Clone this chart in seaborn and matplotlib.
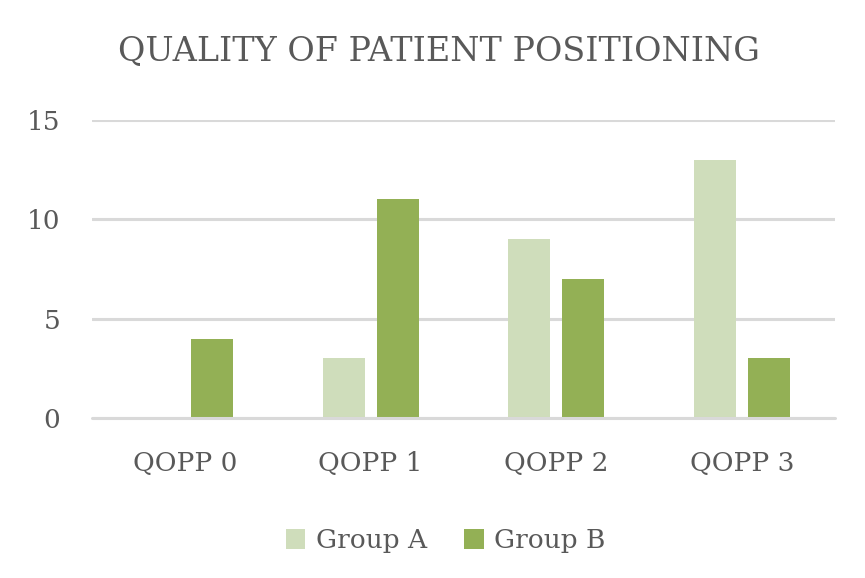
import pandas as pd
import matplotlib.pyplot as plt
import seaborn as sns

categories = ['QOPP 0', 'QOPP 1', 'QOPP 2', 'QOPP 3']
group_a = [0, 3, 9, 13]
group_b = [4, 11, 7, 3]
groups = ['Group A', 'Group B']

df = pd.DataFrame({
    'category': categories * 2,
    'value': group_a + group_b,
    'group': [groups[0]] * 4 + [groups[1]] * 4,
})

sns.set_style('white')
plt.rcParams['font.family'] = ['DejaVu Serif']
text_color = '#595959'

fig = plt.figure(figsize=(8.65, 5.78), dpi=100)
ax = fig.add_axes([0.1064, 0.2768, 0.8589, 0.5156])

palette = {'Group A': '#cfddbb', 'Group B': '#93b055'}
sns.barplot(data=df, x='category', y='value', hue='group', palette=palette,
            width=0.58, gap=0.22, saturation=1, linewidth=0, ax=ax, zorder=3)

ax.set_ylim(0, 15)
ax.set_yticks([0, 5, 10, 15])
ax.set_xlim(-0.5, 3.5)
ax.yaxis.grid(True, color='#d9d9d9', linewidth=2.2, zorder=0)
ax.axhline(0, color='#d9d9d9', linewidth=2.2, clip_on=False, zorder=4)
for s in ax.spines.values():
    s.set_visible(False)
ax.tick_params(axis='both', length=0, labelsize=19, labelcolor=text_color)
ax.tick_params(axis='x', pad=24)
ax.tick_params(axis='y', pad=23)
ax.set_xlabel('')
ax.set_ylabel('')

fig.suptitle('QUALITY OF PATIENT POSITIONING', x=0.508, y=0.94, fontsize=24, color=text_color)

ax.legend(loc='upper center', bbox_to_anchor=(0.476, -0.29), ncol=2, frameon=False,
          fontsize=19, labelcolor=text_color, handlelength=0.75, handleheight=0.75,
          handletextpad=0.4, columnspacing=1.4)

fig.savefig('out.png', dpi=100)
